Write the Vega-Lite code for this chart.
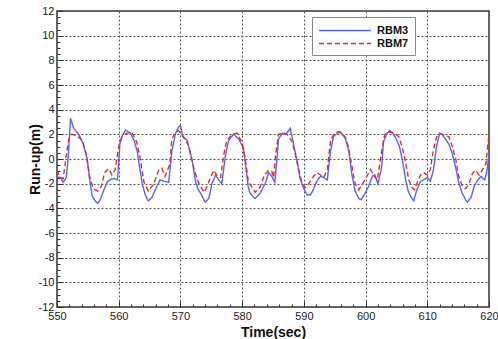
{
 "$schema": "https://vega.github.io/schema/vega-lite/v6.json",
 "width": 432, "height": 296,
 "autosize": {"type": "none"},
 "padding": {"left": 57, "top": 11, "right": 9, "bottom": 32},
 "background": "white",
 "config": {"view": {"stroke": "#333", "strokeWidth": 1.5}, "font": "Liberation Sans"},
 "data": {"values": [
  {"t":550.0,"v":-1.45,"s":"RBM3"},{"t":550.5,"v":-1.5,"s":"RBM3"},{"t":551.0,"v":-1.9,"s":"RBM3"},{"t":551.5,"v":-1.5,"s":"RBM3"},{"t":551.8,"v":0.0,"s":"RBM3"},{"t":552.2,"v":3.3,"s":"RBM3"},{"t":552.7,"v":2.5,"s":"RBM3"},{"t":553.5,"v":2.0,"s":"RBM3"},{"t":554.2,"v":1.3,"s":"RBM3"},{"t":554.9,"v":0.0,"s":"RBM3"},{"t":555.3,"v":-1.7,"s":"RBM3"},{"t":555.7,"v":-3.0,"s":"RBM3"},{"t":556.2,"v":-3.4,"s":"RBM3"},{"t":556.6,"v":-3.6,"s":"RBM3"},{"t":557.1,"v":-3.2,"s":"RBM3"},{"t":557.6,"v":-2.5,"s":"RBM3"},{"t":558.2,"v":-1.8,"s":"RBM3"},{"t":558.9,"v":-1.6,"s":"RBM3"},{"t":559.4,"v":-1.6,"s":"RBM3"},{"t":559.8,"v":-1.7,"s":"RBM3"},{"t":560.2,"v":1.3,"s":"RBM3"},{"t":560.6,"v":1.9,"s":"RBM3"},{"t":561.1,"v":2.35,"s":"RBM3"},{"t":561.9,"v":2.1,"s":"RBM3"},{"t":562.5,"v":1.5,"s":"RBM3"},{"t":563.0,"v":0.6,"s":"RBM3"},{"t":563.5,"v":-1.0,"s":"RBM3"},{"t":563.8,"v":-2.0,"s":"RBM3"},{"t":564.3,"v":-2.9,"s":"RBM3"},{"t":564.8,"v":-3.4,"s":"RBM3"},{"t":565.4,"v":-3.1,"s":"RBM3"},{"t":566.2,"v":-2.2,"s":"RBM3"},{"t":566.7,"v":-1.7,"s":"RBM3"},{"t":567.3,"v":-1.8,"s":"RBM3"},{"t":568.1,"v":-1.9,"s":"RBM3"},{"t":568.6,"v":0.6,"s":"RBM3"},{"t":569.2,"v":2.05,"s":"RBM3"},{"t":569.7,"v":2.6,"s":"RBM3"},{"t":570.0,"v":2.7,"s":"RBM3"},{"t":570.4,"v":1.8,"s":"RBM3"},{"t":571.1,"v":1.5,"s":"RBM3"},{"t":571.9,"v":-0.1,"s":"RBM3"},{"t":572.4,"v":-1.7,"s":"RBM3"},{"t":572.8,"v":-2.4,"s":"RBM3"},{"t":573.3,"v":-2.8,"s":"RBM3"},{"t":574.0,"v":-3.5,"s":"RBM3"},{"t":574.6,"v":-3.2,"s":"RBM3"},{"t":575.1,"v":-2.0,"s":"RBM3"},{"t":575.7,"v":-1.3,"s":"RBM3"},{"t":576.2,"v":-1.7,"s":"RBM3"},{"t":576.7,"v":-2.0,"s":"RBM3"},{"t":577.3,"v":0.3,"s":"RBM3"},{"t":577.8,"v":1.5,"s":"RBM3"},{"t":578.6,"v":2.0,"s":"RBM3"},{"t":579.4,"v":1.65,"s":"RBM3"},{"t":580.2,"v":0.9,"s":"RBM3"},{"t":580.6,"v":-0.7,"s":"RBM3"},{"t":581.0,"v":-2.3,"s":"RBM3"},{"t":581.3,"v":-2.8,"s":"RBM3"},{"t":582.1,"v":-3.2,"s":"RBM3"},{"t":582.9,"v":-2.8,"s":"RBM3"},{"t":583.8,"v":-1.9,"s":"RBM3"},{"t":584.3,"v":-1.1,"s":"RBM3"},{"t":584.8,"v":-1.4,"s":"RBM3"},{"t":585.3,"v":-1.9,"s":"RBM3"},{"t":585.9,"v":1.6,"s":"RBM3"},{"t":586.5,"v":2.1,"s":"RBM3"},{"t":587.0,"v":2.0,"s":"RBM3"},{"t":587.4,"v":2.2,"s":"RBM3"},{"t":587.8,"v":2.5,"s":"RBM3"},{"t":588.3,"v":1.3,"s":"RBM3"},{"t":588.9,"v":-0.2,"s":"RBM3"},{"t":589.4,"v":-1.6,"s":"RBM3"},{"t":590.0,"v":-2.4,"s":"RBM3"},{"t":590.5,"v":-2.9,"s":"RBM3"},{"t":591.1,"v":-2.9,"s":"RBM3"},{"t":591.6,"v":-2.4,"s":"RBM3"},{"t":592.1,"v":-1.8,"s":"RBM3"},{"t":592.7,"v":-1.4,"s":"RBM3"},{"t":593.2,"v":-1.5,"s":"RBM3"},{"t":593.8,"v":-1.7,"s":"RBM3"},{"t":594.3,"v":0.6,"s":"RBM3"},{"t":594.8,"v":1.8,"s":"RBM3"},{"t":595.4,"v":2.1,"s":"RBM3"},{"t":595.9,"v":2.2,"s":"RBM3"},{"t":596.2,"v":2.0,"s":"RBM3"},{"t":596.7,"v":1.7,"s":"RBM3"},{"t":597.3,"v":0.6,"s":"RBM3"},{"t":597.8,"v":-1.3,"s":"RBM3"},{"t":598.3,"v":-2.6,"s":"RBM3"},{"t":598.9,"v":-3.2,"s":"RBM3"},{"t":599.3,"v":-3.3,"s":"RBM3"},{"t":600.0,"v":-2.7,"s":"RBM3"},{"t":600.5,"v":-2.2,"s":"RBM3"},{"t":601.1,"v":-1.4,"s":"RBM3"},{"t":601.5,"v":-1.3,"s":"RBM3"},{"t":602.0,"v":-2.0,"s":"RBM3"},{"t":602.6,"v":-0.7,"s":"RBM3"},{"t":602.9,"v":1.4,"s":"RBM3"},{"t":603.5,"v":2.1,"s":"RBM3"},{"t":603.9,"v":2.3,"s":"RBM3"},{"t":604.4,"v":2.1,"s":"RBM3"},{"t":604.9,"v":1.7,"s":"RBM3"},{"t":605.5,"v":1.0,"s":"RBM3"},{"t":606.0,"v":-0.2,"s":"RBM3"},{"t":606.5,"v":-1.7,"s":"RBM3"},{"t":606.9,"v":-2.6,"s":"RBM3"},{"t":607.4,"v":-3.1,"s":"RBM3"},{"t":607.8,"v":-3.4,"s":"RBM3"},{"t":608.3,"v":-2.5,"s":"RBM3"},{"t":608.9,"v":-1.8,"s":"RBM3"},{"t":609.4,"v":-1.7,"s":"RBM3"},{"t":610.0,"v":-1.5,"s":"RBM3"},{"t":610.5,"v":-1.8,"s":"RBM3"},{"t":611.0,"v":-0.9,"s":"RBM3"},{"t":611.5,"v":1.0,"s":"RBM3"},{"t":612.0,"v":2.1,"s":"RBM3"},{"t":612.4,"v":2.0,"s":"RBM3"},{"t":612.9,"v":1.65,"s":"RBM3"},{"t":613.5,"v":1.2,"s":"RBM3"},{"t":614.0,"v":0.5,"s":"RBM3"},{"t":614.6,"v":-0.7,"s":"RBM3"},{"t":615.1,"v":-1.9,"s":"RBM3"},{"t":615.6,"v":-2.7,"s":"RBM3"},{"t":616.2,"v":-3.3,"s":"RBM3"},{"t":616.5,"v":-3.5,"s":"RBM3"},{"t":617.1,"v":-3.1,"s":"RBM3"},{"t":617.6,"v":-2.2,"s":"RBM3"},{"t":618.2,"v":-1.7,"s":"RBM3"},{"t":618.7,"v":-1.4,"s":"RBM3"},{"t":619.3,"v":-1.7,"s":"RBM3"},{"t":619.7,"v":-0.9,"s":"RBM3"},{"t":620.0,"v":0.5,"s":"RBM3"},
  {"t":550.0,"v":-0.9,"s":"RBM7"},{"t":550.5,"v":-1.5,"s":"RBM7"},{"t":551.0,"v":-1.6,"s":"RBM7"},{"t":551.5,"v":0.3,"s":"RBM7"},{"t":551.9,"v":1.6,"s":"RBM7"},{"t":552.4,"v":2.0,"s":"RBM7"},{"t":553.2,"v":1.9,"s":"RBM7"},{"t":554.1,"v":1.5,"s":"RBM7"},{"t":554.7,"v":0.5,"s":"RBM7"},{"t":555.3,"v":-1.5,"s":"RBM7"},{"t":555.9,"v":-2.4,"s":"RBM7"},{"t":556.6,"v":-2.6,"s":"RBM7"},{"t":557.2,"v":-2.2,"s":"RBM7"},{"t":557.7,"v":-1.1,"s":"RBM7"},{"t":558.4,"v":-0.8,"s":"RBM7"},{"t":558.9,"v":-1.3,"s":"RBM7"},{"t":559.4,"v":-0.9,"s":"RBM7"},{"t":560.0,"v":1.0,"s":"RBM7"},{"t":560.5,"v":1.8,"s":"RBM7"},{"t":561.3,"v":2.1,"s":"RBM7"},{"t":562.2,"v":2.1,"s":"RBM7"},{"t":562.9,"v":1.4,"s":"RBM7"},{"t":563.5,"v":0.0,"s":"RBM7"},{"t":564.1,"v":-1.9,"s":"RBM7"},{"t":564.8,"v":-2.6,"s":"RBM7"},{"t":565.7,"v":-2.0,"s":"RBM7"},{"t":566.5,"v":-0.9,"s":"RBM7"},{"t":567.0,"v":-0.75,"s":"RBM7"},{"t":567.5,"v":-1.4,"s":"RBM7"},{"t":568.3,"v":-0.4,"s":"RBM7"},{"t":568.6,"v":1.6,"s":"RBM7"},{"t":569.2,"v":2.2,"s":"RBM7"},{"t":569.7,"v":2.3,"s":"RBM7"},{"t":570.5,"v":1.8,"s":"RBM7"},{"t":571.3,"v":1.1,"s":"RBM7"},{"t":572.1,"v":-0.6,"s":"RBM7"},{"t":572.7,"v":-1.6,"s":"RBM7"},{"t":573.2,"v":-2.2,"s":"RBM7"},{"t":573.9,"v":-2.7,"s":"RBM7"},{"t":574.8,"v":-1.6,"s":"RBM7"},{"t":575.4,"v":-0.9,"s":"RBM7"},{"t":576.0,"v":-1.4,"s":"RBM7"},{"t":576.5,"v":-1.5,"s":"RBM7"},{"t":577.0,"v":0.3,"s":"RBM7"},{"t":577.5,"v":1.5,"s":"RBM7"},{"t":578.4,"v":2.0,"s":"RBM7"},{"t":579.2,"v":2.1,"s":"RBM7"},{"t":580.0,"v":1.3,"s":"RBM7"},{"t":580.5,"v":0.0,"s":"RBM7"},{"t":581.0,"v":-1.8,"s":"RBM7"},{"t":581.6,"v":-2.3,"s":"RBM7"},{"t":582.1,"v":-2.7,"s":"RBM7"},{"t":582.9,"v":-2.3,"s":"RBM7"},{"t":583.6,"v":-1.3,"s":"RBM7"},{"t":584.3,"v":-0.9,"s":"RBM7"},{"t":584.8,"v":-1.0,"s":"RBM7"},{"t":585.1,"v":-1.5,"s":"RBM7"},{"t":585.4,"v":0.3,"s":"RBM7"},{"t":585.9,"v":2.0,"s":"RBM7"},{"t":586.7,"v":2.1,"s":"RBM7"},{"t":587.3,"v":2.0,"s":"RBM7"},{"t":588.1,"v":1.4,"s":"RBM7"},{"t":588.6,"v":0.4,"s":"RBM7"},{"t":589.2,"v":-0.9,"s":"RBM7"},{"t":589.7,"v":-2.0,"s":"RBM7"},{"t":590.2,"v":-2.3,"s":"RBM7"},{"t":590.8,"v":-2.0,"s":"RBM7"},{"t":591.6,"v":-1.4,"s":"RBM7"},{"t":592.1,"v":-1.1,"s":"RBM7"},{"t":592.7,"v":-1.3,"s":"RBM7"},{"t":593.2,"v":-1.5,"s":"RBM7"},{"t":593.8,"v":-0.9,"s":"RBM7"},{"t":594.3,"v":1.4,"s":"RBM7"},{"t":594.8,"v":2.0,"s":"RBM7"},{"t":595.5,"v":2.2,"s":"RBM7"},{"t":596.0,"v":2.1,"s":"RBM7"},{"t":596.7,"v":1.8,"s":"RBM7"},{"t":597.2,"v":1.0,"s":"RBM7"},{"t":597.8,"v":-0.6,"s":"RBM7"},{"t":598.3,"v":-2.0,"s":"RBM7"},{"t":598.9,"v":-2.5,"s":"RBM7"},{"t":599.4,"v":-2.1,"s":"RBM7"},{"t":600.2,"v":-1.4,"s":"RBM7"},{"t":600.8,"v":-0.85,"s":"RBM7"},{"t":601.3,"v":-1.3,"s":"RBM7"},{"t":601.9,"v":-1.7,"s":"RBM7"},{"t":602.6,"v":0.6,"s":"RBM7"},{"t":603.1,"v":2.0,"s":"RBM7"},{"t":603.8,"v":2.2,"s":"RBM7"},{"t":604.6,"v":2.1,"s":"RBM7"},{"t":605.4,"v":1.8,"s":"RBM7"},{"t":605.9,"v":1.0,"s":"RBM7"},{"t":606.5,"v":-0.3,"s":"RBM7"},{"t":607.0,"v":-1.7,"s":"RBM7"},{"t":607.5,"v":-2.3,"s":"RBM7"},{"t":607.9,"v":-2.5,"s":"RBM7"},{"t":608.3,"v":-2.0,"s":"RBM7"},{"t":608.9,"v":-1.3,"s":"RBM7"},{"t":609.4,"v":-1.1,"s":"RBM7"},{"t":610.0,"v":-1.3,"s":"RBM7"},{"t":610.5,"v":-0.85,"s":"RBM7"},{"t":610.9,"v":0.5,"s":"RBM7"},{"t":611.5,"v":1.8,"s":"RBM7"},{"t":612.1,"v":2.05,"s":"RBM7"},{"t":612.9,"v":1.9,"s":"RBM7"},{"t":613.5,"v":1.8,"s":"RBM7"},{"t":614.0,"v":1.1,"s":"RBM7"},{"t":614.6,"v":0.0,"s":"RBM7"},{"t":615.1,"v":-1.4,"s":"RBM7"},{"t":615.6,"v":-2.1,"s":"RBM7"},{"t":616.2,"v":-2.4,"s":"RBM7"},{"t":616.7,"v":-2.1,"s":"RBM7"},{"t":617.3,"v":-1.2,"s":"RBM7"},{"t":617.8,"v":-0.9,"s":"RBM7"},{"t":618.4,"v":-1.3,"s":"RBM7"},{"t":618.9,"v":-0.9,"s":"RBM7"},{"t":619.5,"v":-0.4,"s":"RBM7"},{"t":619.9,"v":1.6,"s":"RBM7"},{"t":620.0,"v":1.8,"s":"RBM7"}
 ]},
 "mark": {"type": "line", "strokeWidth": 1.4, "clip": true},
 "encoding": {
  "x": {"field": "t", "type": "quantitative",
   "scale": {"domain": [550, 620], "nice": false, "zero": false},
   "axis": {"title": "Time(sec)", "titleFont": "Liberation Sans", "titleFontSize": 14, "titleFontWeight": "bold", "titleColor": "#111", "titlePadding": 1,
    "values": [550,552,554,556,558,560,562,564,566,568,570,572,574,576,578,580,582,584,586,588,590,592,594,596,598,600,602,604,606,608,610,612,614,616,618,620],
    "labelExpr": "datum.value % 10 == 0 ? '' + datum.value : ''",
    "labelFlush": false, "labelOverlap": false, "labelFontSize": 11, "labelColor": "#222", "labelPadding": 9,
    "domain": false, "tickColor": "#333",
    "tickSize": {"condition": {"test": "datum.value % 10 == 0", "value": -6}, "value": -3},
    "grid": true, "gridDash": [2, 2], "gridColor": "#555",
    "gridOpacity": {"condition": {"test": "datum.value % 10 == 0 && datum.value > 550 && datum.value < 620", "value": 1}, "value": 0}}},
  "y": {"field": "v", "type": "quantitative",
   "scale": {"domain": [-12, 12], "nice": false},
   "axis": {"title": "Run-up(m)", "titleFont": "Liberation Sans", "titleFontSize": 14, "titleFontWeight": "bold", "titleColor": "#111", "titlePadding": -4,
    "values": [-12,-11.5,-11,-10.5,-10,-9.5,-9,-8.5,-8,-7.5,-7,-6.5,-6,-5.5,-5,-4.5,-4,-3.5,-3,-2.5,-2,-1.5,-1,-0.5,0,0.5,1,1.5,2,2.5,3,3.5,4,4.5,5,5.5,6,6.5,7,7.5,8,8.5,9,9.5,10,10.5,11,11.5,12],
    "labelExpr": "datum.value % 2 == 0 ? '' + datum.value : ''",
    "labelOverlap": false, "labelFontSize": 11, "labelColor": "#222", "labelPadding": 9,
    "domain": false, "tickColor": "#333",
    "tickSize": {"condition": {"test": "datum.value % 2 == 0", "value": -6}, "value": -3},
    "grid": true, "gridDash": [2, 2], "gridColor": "#555",
    "gridOpacity": {"condition": {"test": "datum.value % 2 == 0 && datum.value > -12 && datum.value < 12", "value": 1}, "value": 0}}},
  "color": {"field": "s", "type": "nominal",
   "scale": {"domain": ["RBM3", "RBM7"], "range": ["#5565f4", "#e22a2a"]},
   "legend": {"title": null, "orient": "none", "legendX": 255, "legendY": 6, "symbolType": "M-1,0H7", "symbolSize": 169, "symbolStrokeWidth": 1.4, "labelOffset": 44, "rowPadding": 0, "padding": 6, "strokeColor": "#888", "fillColor": "white", "labelFontSize": 11, "labelFontWeight": "bold", "labelColor": "#111", "labelFont": "Liberation Sans"}},
  "strokeDash": {"field": "s", "type": "nominal",
   "scale": {"domain": ["RBM3", "RBM7"], "range": [[1, 0], [5, 3]]},
   "legend": null}
 }
}
